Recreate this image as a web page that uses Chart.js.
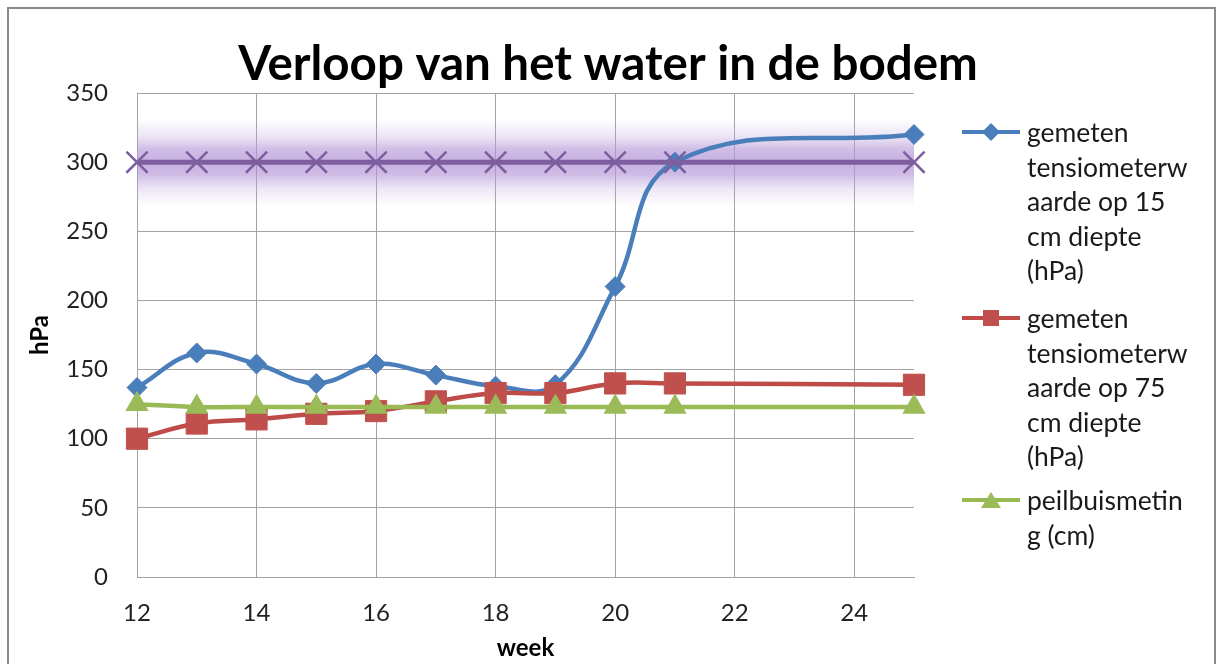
<!DOCTYPE html>
<html lang="nl">
<head>
<meta charset="UTF-8">
<title>Verloop van het water in de bodem</title>
<script src="https://cdn.jsdelivr.net/npm/chart.js"></script>
<style>
  html, body { margin: 0; padding: 0; background: #fff; }
  body { font-family: Lato, sans-serif; }
  #wrap { position: relative; width: 1216px; height: 664px; overflow: hidden; }
  #frame { position: absolute; left: 7px; top: 7px; width: 1209px; height: 720px;
           border: 2px solid #8a8a8a; box-sizing: border-box; }
  #myChart { position: absolute; left: 0; top: 0; }
  .entry { position: absolute; left: 962px; }
  .entry svg { position: absolute; left: 0; top: 7px; }
  .entry div { position: absolute; left: 65px; top: 0; white-space: nowrap;
               font-size: 26.5px; line-height: 34.5px; color: #1a1a1a; }
</style>
</head>
<body>
<div id="wrap">
  <div id="frame"></div>
  <canvas id="myChart" width="1216" height="664"></canvas>

  <div class="entry" style="top:115px">
    <svg width="60" height="20"><line x1="0" y1="10" x2="58" y2="10" stroke="#4a7ebb" stroke-width="4"/>
      <polygon points="29,1 38,10 29,19 20,10" fill="#4a7ebb"/></svg>
    <div>gemeten<br>tensiometerw<br>aarde op 15<br>cm diepte<br>(hPa)</div>
  </div>
  <div class="entry" style="top:301px">
    <svg width="60" height="20"><line x1="0" y1="10" x2="58" y2="10" stroke="#be4b48" stroke-width="4"/>
      <rect x="21" y="2" width="16" height="16" fill="#c0504d"/></svg>
    <div>gemeten<br>tensiometerw<br>aarde op 75<br>cm diepte<br>(hPa)</div>
  </div>
  <div class="entry" style="top:483px">
    <svg width="60" height="20"><line x1="0" y1="10" x2="58" y2="10" stroke="#98b954" stroke-width="4"/>
      <polygon points="29,2 39,18 19,18" fill="#9bbb59"/></svg>
    <div>peilbuismetin<br>g (cm)</div>
  </div>
</div>

<script>
  const weeks = [12, 13, 14, 15, 16, 17, 18, 19, 20, 21, 25];
  const tensio15 = [137, 162, 154, 140, 154, 146, 138, 139, 210, 300, 320];
  const tensio75 = [100, 111, 114, 118, 120, 127, 133, 133, 140, 140, 139];
  const peilbuis = [125, 123, 123, 123, 123, 123, 123, 123, 123, 123, 123];
  const grens = [300, 300, 300, 300, 300, 300, 300, 300, 300, 300, 300];

  const xTicks = [12, 14, 16, 18, 20, 22, 24];
  const yTicks = [0, 50, 100, 150, 200, 250, 300, 350];

  const toPoints = vals => weeks.map((w, i) => ({ x: w, y: vals[i] }));

  // zachte paarse band rond de grenslijn
  function glowColor(context) {
    const chart = context.chart;
    if (!chart.chartArea) return 'rgba(185,160,215,0.4)';
    const yc = chart.scales.y.getPixelForValue(grens[0]);
    const g = chart.ctx.createLinearGradient(0, yc - 44, 0, yc + 44);
    g.addColorStop(0, 'rgba(190,165,222,0)');
    g.addColorStop(0.2, 'rgba(190,165,222,0.28)');
    g.addColorStop(0.35, 'rgba(180,150,215,0.62)');
    g.addColorStop(0.5, 'rgba(175,145,212,0.72)');
    g.addColorStop(0.65, 'rgba(180,150,215,0.62)');
    g.addColorStop(0.8, 'rgba(190,165,222,0.28)');
    g.addColorStop(1, 'rgba(190,165,222,0)');
    return g;
  }

  const tickFont = { family: 'Lato', size: 24 };
  const gridColor = '#a3a3a3';

  new Chart(document.getElementById('myChart'), {
    type: 'line',
    data: {
      datasets: [
        {
          label: 'gemeten tensiometerwaarde op 15 cm diepte (hPa)',
          data: toPoints(tensio15),
          borderColor: '#4a7ebb', backgroundColor: '#4a7ebb',
          borderWidth: 4.5, tension: 0.4, clip: false,
          pointStyle: 'rectRot', pointRadius: 10, pointBorderWidth: 1,
          pointBackgroundColor: '#4a7ebb', pointBorderColor: '#4a7ebb',
          order: 4
        },
        {
          label: 'gemeten tensiometerwaarde op 75 cm diepte (hPa)',
          data: toPoints(tensio75),
          borderColor: '#be4b48', backgroundColor: '#c0504d',
          borderWidth: 4.5, tension: 0.4, clip: false,
          pointStyle: 'rect', pointRadius: 15, pointBorderWidth: 1,
          pointBackgroundColor: '#c0504d', pointBorderColor: '#c0504d',
          order: 3
        },
        {
          label: 'peilbuismeting (cm)',
          data: toPoints(peilbuis),
          borderColor: '#98b954', backgroundColor: '#9bbb59',
          borderWidth: 4.5, tension: 0.4, clip: false,
          pointStyle: 'triangle', pointRadius: 12, pointBorderWidth: 1.5,
          pointBackgroundColor: '#9bbb59', pointBorderColor: '#9bbb59',
          order: 2
        },
        {
          label: 'grens',
          data: toPoints(grens),
          borderColor: '#7d5fa0',
          borderWidth: 5, tension: 0, clip: false,
          pointStyle: 'crossRot', pointRadius: 15, pointBorderWidth: 2.5,
          pointBorderColor: '#7d5fa0',
          order: 1
        },
        {
          label: 'glow',
          data: toPoints(grens),
          borderColor: glowColor,
          borderWidth: 88, borderCapStyle: 'butt', tension: 0,
          pointRadius: 0,
          order: 5
        }
      ]
    },
    options: {
      responsive: false,
      animation: false,
      layout: { padding: 0 },
      plugins: {
        legend: { display: false },
        tooltip: { enabled: false },
        title: {
          display: true,
          text: 'Verloop van het water in de bodem',
          color: '#000',
          font: { family: 'Lato', size: 47.5, weight: 'bold' },
          padding: { top: 36, bottom: 0 }
        }
      },
      scales: {
        x: {
          type: 'linear',
          min: 12, max: 25,
          afterBuildTicks: scale => { scale.ticks = xTicks.map(v => ({ value: v })); },
          afterFit: scale => { scale.height = 87; },
          ticks: { font: tickFont, color: '#222', padding: 22, maxRotation: 0 },
          grid: { color: gridColor, drawTicks: false },
          border: { color: gridColor },
          title: { display: true, text: 'week', color: '#000',
                   font: { family: 'Lato', size: 24, weight: 'bold' },
                   padding: { top: 0, bottom: 1 } }
        },
        y: {
          min: 0, max: 350,
          afterBuildTicks: scale => { scale.ticks = yTicks.map(v => ({ value: v })); },
          afterFit: scale => { scale.width = 137; },
          ticks: { font: tickFont, color: '#222', padding: 29 },
          grid: { color: gridColor, drawTicks: false },
          border: { color: gridColor },
          title: { display: true, text: 'hPa', color: '#000',
                   font: { family: 'Lato', size: 24, weight: 'bold' },
                   padding: { top: 26, bottom: 0 } }
        },
        // lege as rechts: ruimte voor de legenda
        legendSpace: {
          position: 'right',
          afterFit: scale => { scale.width = 302; },
          ticks: { display: false },
          grid: { display: false },
          border: { display: false }
        }
      }
    }
  });
</script>
</body>
</html>
